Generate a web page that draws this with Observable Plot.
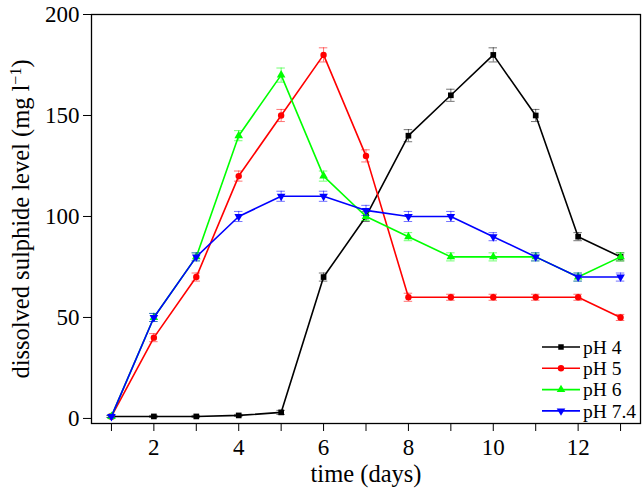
<!DOCTYPE html>
<html>
<head>
<meta charset="utf-8">
<script src="https://cdn.jsdelivr.net/npm/d3@7"></script>
<script src="https://cdn.jsdelivr.net/npm/@observablehq/plot@0.6"></script>
<style>
  body { margin: 0; background: #fff; }
  #wrap { position: relative; width: 643px; height: 490px; }
  #legend { position: absolute; left: 538px; top: 336px; }
</style>
</head>
<body>
<div id="wrap"></div>
<script>
const days = [1, 2, 3, 4, 5, 6, 7, 8, 9, 10, 11, 12, 13];
const seriesNames = ["pH 4", "pH 5", "pH 6", "pH 7.4"];
const seriesColors = ["#000000", "#ff0000", "#00ff00", "#0000ff"];
const ph4 = [1, 1, 1, 1.5, 3, 70, 100, 140, 160, 180, 150, 90, 80];
const ph5 = [1, 40, 70, 120, 150, 180, 130, 60, 60, 60, 60, 60, 50];
const ph6 = [1, 50, 80, 140, 170, 120, 100, 90, 80, 80, 80, 70, 80];
const ph74 = [1, 50, 80, 100, 110, 110, 103, 100, 100, 90, 80, 70, 70];
const err4 = [0.5, 0.5, 0.5, 0.5, 1, 2, 2.5, 3, 3, 3.5, 3, 2, 2];
const err5 = [0.5, 2, 2, 2.5, 3, 3.5, 3, 2, 1.5, 1.5, 1.5, 1.5, 1.5];
const err6 = [0.5, 2, 2, 2.5, 3.5, 2.5, 2, 2, 2, 2, 2, 2, 2];
const err74 = [0.5, 2, 2, 2.5, 2.5, 2.5, 2.5, 2.5, 2.5, 2, 2, 2, 2];
const yTicks = [0, 50, 100, 150, 200];
const xMajor = [2, 4, 6, 8, 10, 12];
const xMinor = [1, 3, 5, 7, 9, 11, 13];

const seriesValues = [ph4, ph5, ph6, ph74];
const seriesErrors = [err4, err5, err6, err74];

const triangleDown = {
  draw(context, size) {
    const s = Math.sqrt(size / 0.433);
    const h = s * Math.sqrt(3) / 2;
    context.moveTo(0, h * 2 / 3);
    context.lineTo(s / 2, -h / 3);
    context.lineTo(-s / 2, -h / 3);
    context.closePath();
  }
};
const plotSymbols = ["square", "circle", "triangle", triangleDown];

const marks = [];
seriesNames.forEach((name, i) => {
  const data = days.map((d, j) => ({day: d, v: seriesValues[i][j], e: seriesErrors[i][j]}));
  const c = seriesColors[i];
  marks.push(Plot.ruleX(data, {x: "day", y1: d => d.v - d.e, y2: d => d.v + d.e, stroke: c, strokeOpacity: 0.55, strokeWidth: 1}));
  marks.push(Plot.ruleY(data, {y: d => d.v - d.e, x1: d => d.day - 0.1, x2: d => d.day + 0.1, stroke: c, strokeOpacity: 0.55, strokeWidth: 1}));
  marks.push(Plot.ruleY(data, {y: d => d.v + d.e, x1: d => d.day - 0.1, x2: d => d.day + 0.1, stroke: c, strokeOpacity: 0.55, strokeWidth: 1}));
  marks.push(Plot.line(data, {x: "day", y: "v", stroke: c, strokeWidth: 1.6}));
  marks.push(Plot.dot(data, {x: "day", y: "v", fill: c, stroke: "none", symbol: () => plotSymbols[i], r: 3.2}));
});

const chart = Plot.plot({
  width: 643,
  height: 490,
  marginLeft: 91,
  marginRight: 3,
  marginTop: 14,
  marginBottom: 67,
  style: {fontFamily: "Liberation Serif", fontSize: "23px", color: "#000", background: "#fff"},
  symbol: {type: "identity"},
  x: {domain: [0.53, 13.47]},
  y: {domain: [-2.5, 200]},
  marks: [
    Plot.frame({stroke: "#000", strokeWidth: 1.3}),
    Plot.axisY(yTicks, {tickSize: 8, tickPadding: 4, label: "dissolved sulphide level (mg l−1)", labelAnchor: "center", labelOffset: 80, labelArrow: "none"}),
    Plot.axisX(xMajor, {tickSize: 8, tickPadding: 7, label: "time (days)", labelAnchor: "center", labelOffset: 58, labelArrow: "none"}),
    Plot.axisX(xMinor, {tickSize: 8, tickFormat: () => "", label: null}),
    ...marks
  ]
});
document.getElementById("wrap").appendChild(chart);

// font sizes for axis texts
const setFont = (sel, px) => chart.querySelectorAll(sel).forEach(g => {
  g.setAttribute("font-size", px);
  g.style.fontSize = px + "px";
  g.querySelectorAll("text").forEach(t => { t.style.fontSize = px + "px"; t.style.fontFamily = "Liberation Serif"; });
});
setFont('g[aria-label$="tick label"]', 23);
setFont('g[aria-label$="axis label"]', 24.5);

// superscript in y label
const ylab = chart.querySelector('g[aria-label="y-axis label"] text');
if (ylab) {
  ylab.textContent = "";
  const ns = "http://www.w3.org/2000/svg";
  const t1 = document.createElementNS(ns, "tspan"); t1.textContent = "dissolved sulphide level (mg l";
  const t2 = document.createElementNS(ns, "tspan"); t2.textContent = "−1"; t2.setAttribute("baseline-shift", "super"); t2.style.fontSize = "16px";
  const t3 = document.createElementNS(ns, "tspan"); t3.textContent = ")";
  ylab.append(t1, t2, t3);
}

// legend
const lg = d3.select("#wrap").append("svg").attr("id", "legend").attr("width", 105).attr("height", 92)
  .style("font-family", "Liberation Serif").style("font-size", "19.5px");
const d3Symbols = [d3.symbolSquare, d3.symbolCircle, d3.symbolTriangle, d3.symbolTriangle];
seriesNames.forEach((name, i) => {
  const y = 11 + i * 21.3;
  const g = lg.append("g").attr("transform", `translate(0,${y})`);
  g.append("line").attr("x1", 4).attr("x2", 42).attr("stroke", seriesColors[i]).attr("stroke-width", 1.6);
  g.append("path").attr("d", d3.symbol(d3Symbols[i], i === 0 ? 30 : 32)())
    .attr("transform", `translate(23,0)${i === 3 ? " rotate(180)" : ""}`).attr("fill", seriesColors[i]);
  g.append("text").attr("x", 45).attr("dy", "0.35em").text(name);
});
</script>
</body>
</html>
